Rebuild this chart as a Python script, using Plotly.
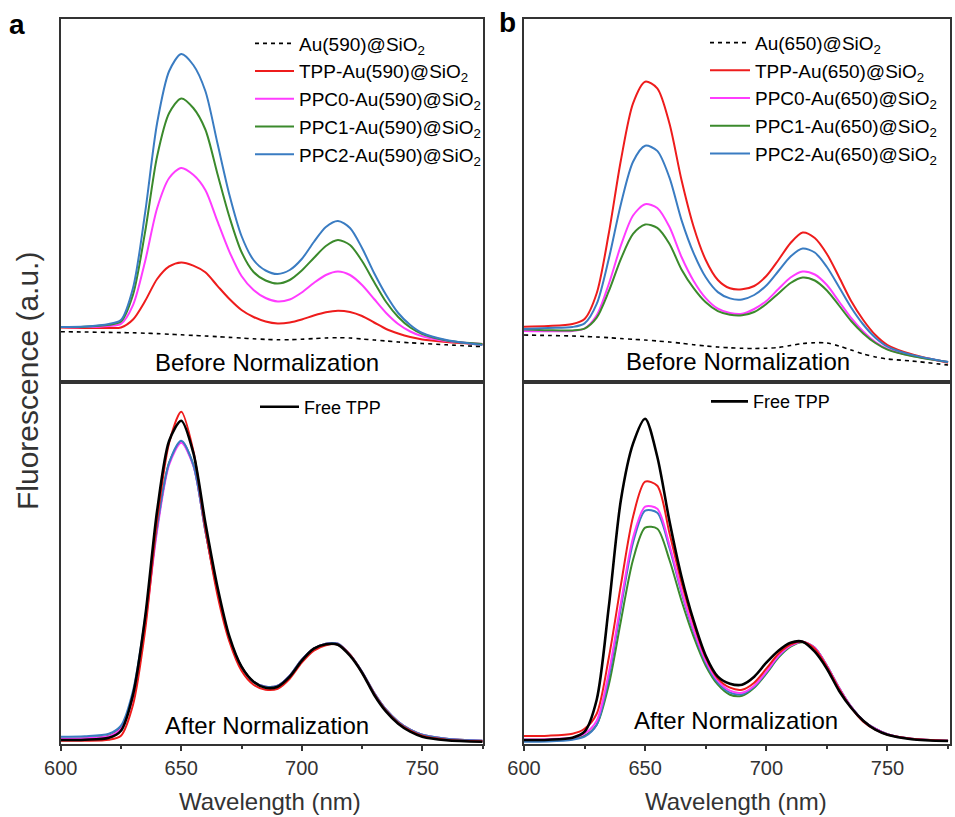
import plotly.graph_objects as go

# ---------------- data (a.u.) ----------------
wavelength = [600, 610, 620, 625, 630, 635, 640, 645, 650, 655, 660, 665, 670, 675, 680,
              685, 690, 695, 700, 705, 710, 715, 720, 725, 730, 735, 740, 745, 750, 760, 775]

# panel a, before normalization
au590 = [51.3, 51, 50.6, 50.4, 50.2, 49.8, 49.4, 48.8, 48.2, 47.6, 47, 46.3, 45.6, 44.9, 44.2,
         43.6, 43.2, 43.3, 43.8, 44.4, 45, 45.3, 45, 44, 43, 42, 41, 40.2, 39.5, 38.2, 36.3]
tpp590 = [55.5, 55, 55, 55.5, 63.5, 81.9, 104, 116.6, 120.6, 117.4, 110.7, 97.2, 84, 73, 66,
          61.5, 59.5, 60.5, 63.5, 67.5, 70.8, 72.3, 71, 67, 60.5, 54, 49.5, 46, 43.6, 41.1, 38.5]
ppc0_590 = [56, 55.9, 57, 59.1, 77.9, 121.6, 174.8, 205, 215.1, 208.2, 193, 161.8, 131.2, 107, 93,
            85, 81.5, 83.5, 90.5, 100, 108, 111.5, 108, 98, 84, 70, 59, 51.5, 46.7, 42, 39]
ppc1_590 = [56, 56.3, 58.2, 61.5, 88.4, 150.9, 226.8, 270, 284.6, 275, 253.5, 209.3, 166, 131, 111,
            102.5, 99.5, 103, 112.5, 125, 137, 143, 138, 122, 101, 81, 66, 55.5, 49, 42.6, 39]
ppc2_590 = [56, 56.5, 59, 63, 95, 170, 260, 312, 329, 318, 292, 240, 188, 147, 123,
            112.5, 109, 113, 124, 141, 156, 162, 155, 135, 110, 88, 70, 58, 50, 43, 38]

# panel a, after normalization
free_tpp_a = [2.7, 3, 5, 12, 48, 125, 232, 302, 322, 290, 220, 156, 106, 76, 61,
              55, 56, 66, 82, 94, 98.5, 98, 87, 70, 48, 31, 19, 11, 6, 2.5, 1]
tpp590_n = [2, 2, 3, 7, 38, 112, 222, 300, 331, 292, 214, 148, 101, 72, 58,
            53, 54, 64, 80, 92, 97.5, 98, 88, 70, 49, 32, 20, 12, 7, 3, 1.5]
ppc0_590_n = [4, 4.5, 6.5, 14, 46, 118, 212, 278, 300, 277, 212, 152, 104, 76, 61,
              56, 57, 67, 83, 94, 99, 99, 88, 71, 50, 33, 21, 13, 8, 4, 2]
ppc1_590_n = [4, 4.5, 7, 15, 48, 120, 215, 280, 301, 278, 212, 152, 104, 76, 61,
              56, 57, 67, 83, 94, 99, 99, 88, 71, 50, 33, 21, 13, 8, 4, 2]
ppc2_590_n = [6, 6.5, 9, 17, 52, 124, 216, 280, 302, 278, 212, 152, 105, 76, 61,
              56, 57, 67, 83, 94, 99, 99, 88, 71, 50, 33, 21, 13, 8, 4, 2]

# panel b, before normalization
au650 = [46, 45.5, 45, 44.5, 44, 43.3, 42.5, 41.7, 41, 40, 39, 37.7, 36.3, 35, 34,
         33.2, 32.7, 32.5, 32.8, 33.5, 35.5, 37.5, 38.3, 38, 35, 31, 27, 24, 22, 20, 16]
tpp650 = [54.3, 55, 57, 62, 87.7, 147.7, 221, 277.7, 299.3, 292.7, 257.7, 201, 154.3, 121, 101,
          92.7, 91.7, 95, 105, 121, 138, 148.5, 143, 127, 104, 80, 61, 46, 36, 26.7, 18.3]
ppc0_650 = [50, 49.7, 50, 52.5, 65.7, 97, 135.6, 165.5, 176.8, 173, 154.2, 124, 100.1, 82.9, 72.3,
            68, 67.2, 72, 80, 92, 103.5, 109.5, 106.5, 96, 79.5, 63, 49.5, 39, 32, 25.2, 19]
ppc1_650 = [51.6, 50.8, 50.6, 52.4, 63.3, 89.8, 122.2, 147.2, 156.5, 153.2, 137.3, 111.6, 92.9, 78.7, 69.9,
            66.3, 65.8, 69, 77, 87.5, 98, 103.5, 100.5, 90.5, 75.5, 60, 47.6, 38, 31.4, 24.9, 19]
ppc2_650 = [52, 53, 54, 57.6, 77.1, 122.3, 177.1, 219.3, 235.3, 230.1, 203.6, 160.9, 127.9, 103.7, 88.9,
            82.6, 81.6, 86, 95.5, 110, 124.5, 132.5, 128.5, 114, 94, 73.5, 56.5, 43.3, 34.4, 26.1, 19]

# panel b, after normalization
free_tpp_b = [2.7, 3, 5, 11, 43, 136, 243, 299, 324, 286, 222, 166, 122, 87, 66,
              59, 58, 66, 80, 92, 100, 101, 91, 74, 52, 35, 22, 13, 8, 3.5, 1.7]
tpp650_n = [6.7, 7, 9, 14, 29, 85, 158, 226, 261, 257, 210, 160, 119, 85, 64,
            55, 53, 60, 74, 89, 98, 101, 94, 76, 54, 35, 21, 13, 8, 4, 2]
ppc0_650_n = [3.3, 3.5, 5, 9, 22, 70, 140, 205, 236, 234, 198, 152, 113, 82, 62,
              52, 50, 57, 71, 87, 97, 101, 95, 77, 55, 36, 22, 14, 8.5, 4, 2]
ppc1_650_n = [2, 2.3, 4, 7, 18, 58, 122, 183, 215, 214, 183, 142, 106, 77, 58,
              48, 47, 55, 69, 85, 96, 100.5, 95, 77, 55, 36, 22, 14, 8.5, 4, 2]
ppc2_650_n = [1, 1.3, 3, 6, 18, 65, 135, 200, 232, 230, 195, 150, 111, 80, 60,
              50, 48.5, 56, 70, 86, 97, 101, 95, 77, 55, 36, 22, 14, 8.5, 4, 2]

x_ticks = [600, 650, 700, 750]

# ---------------- styling ----------------
W, H = 955, 817
FONT = "Arial, Liberation Sans, sans-serif"
RED, MAG, GRN, BLU, BLK = "#ee1c1c", "#ff3cff", "#3b8a2c", "#3a7cc2", "#000000"
AXC = "#333333"

def px_x(p):
    return p / W

def px_y(p):
    return 1 - p / H

XA = [px_x(60.7), px_x(482.7)]
XB = [px_x(524.0), px_x(950.0)]
YT = [px_y(382.0), px_y(18.5)]
YB = [px_y(743.5), px_y(382.0)]

fig = go.Figure()

def add(x, y, name, color, xa, ya, legend=None, dash=None, width=2.0, show=True):
    fig.add_trace(go.Scatter(
        x=x, y=y, name=name, mode="lines",
        line=dict(color=color, width=width, dash=dash, shape="spline", smoothing=0.8),
        xaxis=xa, yaxis=ya, showlegend=show, legend=legend, hoverinfo="skip"))

# top a
add(wavelength, au590, "Au(590)@SiO<sub>2</sub>", BLK, "x", "y", "legend", dash="4px,4px", width=1.6)
add(wavelength, tpp590, "TPP-Au(590)@SiO<sub>2</sub>", RED, "x", "y", "legend")
add(wavelength, ppc0_590, "PPC0-Au(590)@SiO<sub>2</sub>", MAG, "x", "y", "legend")
add(wavelength, ppc1_590, "PPC1-Au(590)@SiO<sub>2</sub>", GRN, "x", "y", "legend")
add(wavelength, ppc2_590, "PPC2-Au(590)@SiO<sub>2</sub>", BLU, "x", "y", "legend")
# bottom a
add(wavelength, ppc1_590_n, "PPC1", GRN, "x2", "y2", show=False)
add(wavelength, ppc0_590_n, "PPC0", MAG, "x2", "y2", show=False)
add(wavelength, ppc2_590_n, "PPC2", BLU, "x2", "y2", show=False)
add(wavelength, tpp590_n, "TPP", RED, "x2", "y2", show=False)
add(wavelength, free_tpp_a, "Free TPP", BLK, "x2", "y2", "legend3", width=2.6)
# top b
add(wavelength, au650, "Au(650)@SiO<sub>2</sub>", BLK, "x3", "y3", "legend2", dash="4px,4px", width=1.6)
add(wavelength, tpp650, "TPP-Au(650)@SiO<sub>2</sub>", RED, "x3", "y3", "legend2")
add(wavelength, ppc0_650, "PPC0-Au(650)@SiO<sub>2</sub>", MAG, "x3", "y3", "legend2")
add(wavelength, ppc1_650, "PPC1-Au(650)@SiO<sub>2</sub>", GRN, "x3", "y3", "legend2")
add(wavelength, ppc2_650, "PPC2-Au(650)@SiO<sub>2</sub>", BLU, "x3", "y3", "legend2")
# bottom b
add(wavelength, ppc1_650_n, "PPC1", GRN, "x4", "y4", show=False)
add(wavelength, ppc2_650_n, "PPC2", BLU, "x4", "y4", show=False)
add(wavelength, ppc0_650_n, "PPC0", MAG, "x4", "y4", show=False)
add(wavelength, tpp650_n, "TPP", RED, "x4", "y4", show=False)
add(wavelength, free_tpp_b, "Free TPP", BLK, "x4", "y4", "legend4", width=2.6)

frame = dict(showline=True, linecolor=AXC, linewidth=1.6, mirror=True,
             showgrid=False, zeroline=False, automargin=False)

def xaxis(domain, anchor, rng, labels):
    d = dict(frame, domain=domain, anchor=anchor, range=rng)
    if labels:
        d.update(tickmode="array", tickvals=x_ticks, ticks="outside", ticklen=6,
                 tickwidth=1.5, tickcolor=AXC, showticklabels=True,
                 tickfont=dict(family=FONT, size=20, color=AXC),
                 minor=dict(tickmode="linear", tick0=600, dtick=25, ticks="outside",
                            ticklen=4, tickwidth=1.5, tickcolor=AXC))
    else:
        d.update(ticks="", showticklabels=False)
    return d

def yaxis(domain, anchor, rng):
    return dict(frame, domain=domain, anchor=anchor, range=rng, ticks="", showticklabels=False)

leg_common = dict(bgcolor="rgba(0,0,0,0)", borderwidth=0, xanchor="left", yanchor="top",
                  traceorder="normal")

fig.update_layout(
    width=W, height=H, margin=dict(l=0, r=0, t=0, b=0, autoexpand=False),
    paper_bgcolor="white", plot_bgcolor="white",
    font=dict(family=FONT, color="black"),
    xaxis=xaxis(XA, "y", [600, 775.05], False),
    yaxis=yaxis(YT, "x", [1, 364.5]),
    xaxis2=xaxis(XA, "y2", [600, 775.05], True),
    yaxis2=yaxis(YB, "x2", [-0.8, 360.7]),
    xaxis3=xaxis(XB, "y3", [600, 775.8], False),
    yaxis3=yaxis(YT, "x3", [-1, 362.5]),
    xaxis4=xaxis(XB, "y4", [600, 775.8], True),
    yaxis4=yaxis(YB, "x4", [-0.8, 360.7]),
    legend=dict(leg_common, x=px_x(250), y=px_y(24.5), itemwidth=39,
                font=dict(family=FONT, size=19, color="black")),
    legend2=dict(leg_common, x=px_x(705), y=px_y(23.8), itemwidth=40,
                 font=dict(family=FONT, size=19, color="black")),
    legend3=dict(leg_common, x=px_x(255), y=px_y(388.5), itemwidth=39,
                 font=dict(family=FONT, size=18, color="black")),
    legend4=dict(leg_common, x=px_x(706), y=px_y(383.2), itemwidth=37,
                 font=dict(family=FONT, size=18, color="black")),
)

def note(text, x, y, size, color="black", bold=False, angle=0):
    fig.add_annotation(text=f"<b>{text}</b>" if bold else text, xref="paper", yref="paper",
                       x=px_x(x), y=px_y(y), showarrow=False, textangle=angle,
                       xanchor="center", yanchor="middle",
                       font=dict(family=FONT, size=size, color=color))

note("a", 17, 24, 28, bold=True)
note("b", 508, 23, 28, bold=True)
note("Before Normalization", 267, 362.5, 24)
note("Before Normalization", 738, 362, 24)
note("After Normalization", 267, 725, 24)
note("After Normalization", 735.5, 720, 24)
note("Wavelength (nm)", 270, 801, 24, color=AXC)
note("Wavelength (nm)", 735.5, 801, 24, color=AXC)
note("Fluorescence (a.u.)", 27, 381, 30, color=AXC, angle=-90)

fig.write_html("out.html")
